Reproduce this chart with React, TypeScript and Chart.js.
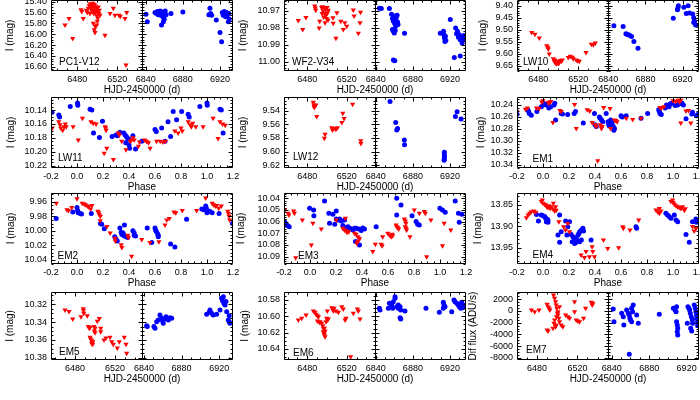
import React, { useEffect, useRef } from "react";
import { Chart, registerables } from "chart.js";

Chart.register(...registerables);

type Pt = [number, number];

const FONT = "'Liberation Sans', Arial, Helvetica, sans-serif";
const RED = "rgb(255,0,0)";
const BLUE = "rgb(0,0,255)";

// ---------------- tick values ----------------
const hjdTicksA = [6480, 6520];
const hjdTicksB = [6840, 6880, 6920];
const phaseTicks = [-0.2, 0.0, 0.2, 0.4, 0.6, 0.8, 1.0, 1.2];
const pc1v12YTicks = [15.4, 15.6, 15.8, 16.0, 16.2, 16.4, 16.6];
const wf2v34YTicks = [10.97, 10.98, 10.99, 11.0];
const lw10YTicks = [9.4, 9.45, 9.5, 9.55, 9.6, 9.65];
const lw11YTicks = [10.14, 10.16, 10.18, 10.2, 10.22];
const lw12YTicks = [9.54, 9.56, 9.58, 9.6, 9.62];
const em1YTicks = [10.24, 10.26, 10.28, 10.3, 10.32, 10.34];
const em2YTicks = [9.96, 9.98, 10.0, 10.02, 10.04];
const em3YTicks = [10.04, 10.05, 10.06, 10.07, 10.08, 10.09];
const em4YTicks = [13.85, 13.9, 13.95];
const em5YTicks = [10.32, 10.34, 10.36, 10.38];
const em6YTicks = [10.58, 10.6, 10.62, 10.64];
const em7YTicks = [2000, 0, -2000, -4000, -6000, -8000];

// ---------------- data: [HJD-2450000 or phase, value] ----------------
const pc1v12Red: Pt[] = [
  [6467.7, 15.83], [6471.7, 15.71], [6475.4, 16.08], [6483.7, 15.55], [6484.5, 15.58], [6486, 15.71],
  [6489, 15.56], [6490, 15.6], [6491, 15.52], [6492, 15.47], [6493, 15.44], [6493.5, 15.5], [6494, 15.55],
  [6494.5, 15.46], [6495, 15.58], [6495.5, 15.43], [6496, 15.5], [6496.5, 15.62], [6497, 15.45], [6497.5, 15.55],
  [6498, 15.48], [6498.5, 15.6], [6499, 15.52], [6499.5, 15.66], [6500, 15.57], [6500.5, 15.7], [6501, 15.5],
  [6501.5, 15.62], [6502, 15.56], [6492.7, 15.62], [6496, 15.8], [6497, 15.92], [6497.7, 15.97], [6498, 15.86],
  [6499.4, 15.83], [6500, 15.76], [6502.7, 15.65], [6507.7, 16.02], [6512.7, 15.62], [6516, 15.52],
  [6517.7, 15.65], [6521.7, 15.65], [6523, 15.67], [6527.7, 15.71], [6529.4, 15.6], [6528.7, 16.57],
];
const pc1v12Blue: Pt[] = [
  [6840.3, 15.63], [6841.7, 15.77], [6850, 15.6], [6851.5, 15.62], [6852.5, 15.58], [6853.5, 15.64],
  [6854.5, 15.6], [6855.5, 15.57], [6856.5, 15.62], [6857, 15.66], [6857.5, 15.59], [6858.5, 15.63],
  [6859, 15.69], [6860, 15.61], [6861, 15.57], [6862, 15.64], [6857, 15.83], [6859, 15.77], [6860, 15.72],
  [6867.2, 15.62], [6880, 15.59], [6908, 15.64], [6909.2, 15.52], [6910, 15.62], [6911, 15.65], [6916, 15.74],
  [6920, 15.97], [6921.7, 16.14], [6922.5, 15.6], [6923.5, 15.65], [6924.5, 15.58], [6925.5, 15.62],
  [6926, 15.68], [6927, 15.6], [6928, 15.64], [6929, 15.77], [6929.5, 15.62], [6930, 15.72],
];
const wf2v34Red: Pt[] = [
  [6470.8, 10.9757], [6475.3, 10.981], [6478.6, 10.9738], [6487.5, 10.967], [6488, 10.9682], [6488.5, 10.9695],
  [6492, 10.98], [6492.5, 10.976], [6494.5, 10.968], [6495, 10.9715], [6495.5, 10.9675], [6496, 10.97],
  [6496.5, 10.9735], [6497, 10.968], [6497.5, 10.9715], [6498, 10.977], [6498.5, 10.969], [6499, 10.9725],
  [6499.5, 10.9745], [6500, 10.968], [6500.5, 10.971], [6501, 10.9753], [6501.3, 10.9695], [6506.3, 10.9773],
  [6506, 10.974], [6509, 10.9862], [6510, 10.971], [6514, 10.976], [6516.5, 10.981], [6518, 10.977],
  [6520, 10.979], [6526.6, 10.9694], [6527.5, 10.973], [6531.8, 10.9832], [6533.5, 10.977], [6534, 10.9708],
];
const wf2v34Blue: Pt[] = [
  [6843.9, 10.9684], [6846, 10.9686], [6854.7, 10.9685], [6857, 10.972], [6858, 10.9745], [6859, 10.976],
  [6860, 10.973], [6860.5, 10.9775], [6861, 10.975], [6861.5, 10.979], [6862, 10.974], [6862.5, 10.977],
  [6863, 10.9725], [6863.5, 10.9765], [6864, 10.978], [6858, 10.981], [6859, 10.982], [6860, 10.983],
  [6861, 10.9815], [6871, 10.9832], [6859, 10.999], [6860.5, 10.9995], [6909.5, 10.9832], [6913, 10.982],
  [6913.5, 10.984], [6914, 10.986], [6914.5, 10.988], [6915, 10.985], [6915.5, 10.9875], [6920.3, 10.975],
  [6926, 10.98], [6927, 10.9835], [6928, 10.982], [6929, 10.9855], [6930, 10.984], [6931, 10.987],
  [6932, 10.9855], [6933, 10.989], [6934, 10.987], [6935, 10.9845], [6924.6, 10.9975], [6931, 10.9966],
];
const lw10Red: Pt[] = [
  [6473.4, 9.511], [6476.7, 9.518], [6481, 9.534], [6488.4, 9.566], [6489.5, 9.572], [6490, 9.58], [6491, 9.6],
  [6495, 9.62], [6496, 9.63], [6496.5, 9.625], [6497, 9.636], [6498, 9.641], [6498.5, 9.632], [6499, 9.638],
  [6500, 9.632], [6500.5, 9.64], [6501.7, 9.627], [6503, 9.63], [6504, 9.625], [6510, 9.615], [6512, 9.61],
  [6514, 9.614], [6515, 9.62], [6518, 9.625], [6519.5, 9.628], [6521, 9.63], [6527.7, 9.594], [6533, 9.56],
  [6535, 9.562], [6537, 9.555],
];
const lw10Blue: Pt[] = [
  [6846, 9.483], [6856, 9.486], [6859, 9.516], [6860, 9.518], [6861.5, 9.52], [6863, 9.523], [6865, 9.528],
  [6867.6, 9.548], [6872, 9.576], [6910, 9.452], [6914.5, 9.417], [6915, 9.41], [6915.5, 9.4], [6921.4, 9.406],
  [6926, 9.4], [6924, 9.432], [6927.5, 9.43], [6931, 9.434], [6932, 9.45], [6933, 9.465], [6934, 9.48], [6932, 9.47],
];
const lw11Red: Pt[] = [
  [-0.19, 10.166], [-0.14, 10.157], [-0.13, 10.161], [-0.125, 10.166], [-0.11, 10.169], [-0.1, 10.164],
  [-0.09, 10.16], [-0.083, 10.164], [-0.03, 10.164], [0.01, 10.183], [0.042, 10.152], [0.107, 10.157],
  [0.125, 10.159], [0.147, 10.16], [0.216, 10.164], [0.22, 10.166], [0.224, 10.169], [0.209, 10.202],
  [0.229, 10.195], [0.318, 10.173], [0.326, 10.176], [0.28, 10.211], [0.344, 10.185], [0.377, 10.197],
  [0.41, 10.185], [0.42, 10.183], [0.43, 10.18], [0.44, 10.183], [0.472, 10.192], [0.48, 10.186],
  [0.52, 10.183], [0.535, 10.185], [0.55, 10.187], [0.562, 10.195], [0.613, 10.185], [0.64, 10.185],
  [0.66, 10.186], [0.68, 10.185], [0.753, 10.17], [0.778, 10.173], [0.8, 10.166], [0.81, 10.17],
  [0.855, 10.157], [0.87, 10.161], [0.88, 10.164], [0.89, 10.159], [0.914, 10.164], [0.97, 10.164],
  [1.047, 10.152], [1.085, 10.181], [1.1, 10.157], [1.12, 10.16], [1.14, 10.162],
];
const lw11Blue: Pt[] = [
  [-0.192, 10.1433], [-0.14, 10.147], [-0.134, 10.15], [-0.052, 10.135], [0.004, 10.13], [0.006, 10.133],
  [0.1, 10.139], [0.114, 10.14], [0.127, 10.173], [0.196, 10.156], [0.173, 10.1796], [0.27, 10.178],
  [0.3, 10.176], [0.31, 10.177], [0.33, 10.172], [0.36, 10.173], [0.37, 10.176], [0.38, 10.178],
  [0.39, 10.181], [0.4, 10.182], [0.375, 10.187], [0.4, 10.19], [0.405, 10.195], [0.43, 10.177],
  [0.45, 10.196], [0.498, 10.185], [0.6, 10.168], [0.61, 10.171], [0.651, 10.166], [0.677, 10.185],
  [0.7, 10.157], [0.72, 10.178], [0.74, 10.142], [0.766, 10.154], [0.805, 10.142], [0.855, 10.146],
  [0.863, 10.15], [0.945, 10.135], [1.0, 10.13], [1.002, 10.133], [1.1, 10.139], [1.11, 10.14], [1.124, 10.173],
];
const lw12Red: Pt[] = [
  [6486, 9.527], [6486.5, 9.531], [6487, 9.535], [6487.5, 9.533], [6488.7, 9.531], [6489.5, 9.548],
  [6498, 9.5746], [6497.3, 9.5805], [6504.8, 9.565], [6505.5, 9.568], [6507, 9.566], [6509, 9.567],
  [6510.5, 9.565], [6515, 9.557], [6516, 9.5435], [6517.3, 9.551], [6526, 9.53], [6534.2, 9.584], [6534.4, 9.588],
];
const lw12Blue: Pt[] = [
  [6855.4, 9.526], [6861.5, 9.557], [6862.6, 9.568], [6863.5, 9.566], [6870.8, 9.583], [6871, 9.59],
  [6913.9, 9.601], [6913.9, 9.605], [6914, 9.608], [6913.8, 9.611], [6913.6, 9.613], [6925.8, 9.548],
  [6927.6, 9.541], [6931.9, 9.552],
];
const em1Red: Pt[] = [
  [-0.2, 10.251], [-0.135, 10.247], [-0.12, 10.245], [-0.05, 10.245], [-0.03, 10.246], [-0.01, 10.235],
  [0.0, 10.233], [0.04, 10.236], [0.045, 10.237], [0.06, 10.234], [0.076, 10.269], [0.13, 10.249],
  [0.14, 10.251], [0.243, 10.239], [0.256, 10.279], [0.34, 10.248], [0.36, 10.25], [0.378, 10.269],
  [0.4, 10.273], [0.41, 10.276], [0.44, 10.273], [0.45, 10.279], [0.455, 10.276], [0.421, 10.333],
  [0.467, 10.244], [0.516, 10.246], [0.52, 10.279], [0.55, 10.265], [0.56, 10.266], [0.57, 10.268],
  [0.64, 10.262], [0.69, 10.264], [0.754, 10.262], [0.9, 10.244], [0.91, 10.245], [0.93, 10.243],
  [1.0, 10.233], [1.02, 10.234], [1.04, 10.232], [1.05, 10.235], [1.06, 10.232], [1.06, 10.27],
  [1.1, 10.25], [1.12, 10.249], [1.137, 10.27],
];
const em1Blue: Pt[] = [
  [-0.2, 10.2555], [-0.118, 10.248], [-0.11, 10.251], [-0.105, 10.254], [-0.09, 10.257], [-0.047, 10.251],
  [-0.013, 10.243], [0.0, 10.24], [0.01, 10.238], [0.025, 10.24], [0.038, 10.237], [0.045, 10.245],
  [0.06, 10.243], [0.085, 10.24], [0.09, 10.237], [0.097, 10.265], [0.14, 10.254], [0.15, 10.255],
  [0.19, 10.256], [0.24, 10.254], [0.25, 10.251], [0.31, 10.27], [0.396, 10.254], [0.4, 10.273],
  [0.41, 10.276], [0.434, 10.26], [0.44, 10.262], [0.45, 10.265], [0.46, 10.268], [0.486, 10.254],
  [0.5, 10.268], [0.505, 10.272], [0.51, 10.275], [0.52, 10.265], [0.525, 10.267], [0.53, 10.27],
  [0.535, 10.274], [0.54, 10.276], [0.55, 10.279], [0.545, 10.282], [0.6, 10.258], [0.605, 10.259],
  [0.61, 10.26], [0.64, 10.258], [0.754, 10.262], [0.805, 10.254], [0.89, 10.248], [0.895, 10.251],
  [0.9, 10.254], [0.91, 10.256], [0.94, 10.245], [0.95, 10.24], [0.97, 10.243], [0.98, 10.238],
  [0.99, 10.237], [1.017, 10.241], [1.035, 10.24], [1.05, 10.238], [1.07, 10.237], [1.08, 10.24],
  [1.1, 10.263], [1.145, 10.255], [1.15, 10.252], [1.18, 10.258], [1.19, 10.256],
];
const em2Red: Pt[] = [
  [-0.2, 9.972], [-0.159, 9.962], [-0.078, 9.971], [-0.065, 9.972], [-0.04, 9.968], [0.0, 9.956],
  [0.04, 9.962], [0.055, 9.963], [0.065, 9.964], [0.08, 9.966], [0.09, 9.967], [0.105, 9.97], [0.115, 9.965],
  [0.16, 9.973], [0.167, 9.975], [0.172, 9.978], [0.18, 9.98], [0.178, 9.986], [0.23, 9.994], [0.255, 10.003],
  [0.293, 10.01], [0.295, 10.014], [0.34, 10.019], [0.345, 10.023], [0.39, 10.006], [0.395, 10.009],
  [0.42, 10.035], [0.498, 10.012], [0.561, 10.016], [0.63, 10.015], [0.677, 9.992], [0.69, 9.985],
  [0.71, 9.983], [0.746, 9.974], [0.76, 9.975], [0.81, 9.972], [0.92, 9.972], [0.99, 9.955], [1.04, 9.962],
  [1.05, 9.964], [1.065, 9.966], [1.075, 9.965], [1.09, 9.969], [1.11, 9.966], [1.16, 9.973], [1.165, 9.976],
  [1.17, 9.98], [1.175, 9.985],
];
const em2Blue: Pt[] = [
  [-0.16, 9.983], [-0.032, 9.974], [0.0, 9.968], [0.005, 9.972], [0.01, 9.975], [0.025, 9.976], [0.035, 9.977],
  [0.11, 9.976], [0.18, 9.99], [0.19, 9.991], [0.21, 9.997], [0.29, 10.008], [0.3, 10.011], [0.31, 10.014],
  [0.33, 9.996], [0.34, 10.002], [0.345, 10.005], [0.355, 10.003], [0.36, 10.006], [0.365, 10.007],
  [0.38, 10.008], [0.39, 10.009], [0.365, 9.992], [0.43, 10.0], [0.44, 10.003], [0.44, 10.006], [0.45, 10.007],
  [0.54, 9.996], [0.6, 9.996], [0.605, 9.999], [0.61, 10.001], [0.62, 10.004], [0.625, 10.006], [0.625, 10.008],
  [0.575, 10.016], [0.72, 10.018], [0.753, 10.022], [0.843, 9.984], [0.96, 9.97], [0.975, 9.971], [0.99, 9.966],
  [0.995, 9.969], [1.0, 9.975], [1.02, 9.973], [1.04, 9.975], [1.093, 9.976], [1.196, 9.99],
];
const em3Red: Pt[] = [
  [-0.195, 10.05], [-0.169, 10.0529], [-0.162, 10.0543], [-0.126, 10.0509], [-0.12, 10.0529], [-0.11, 10.0909],
  [-0.059, 10.0586], [0.01, 10.08], [0.022, 10.0614], [0.087, 10.0663], [0.202, 10.0586], [0.273, 10.0571],
  [0.252, 10.0657], [0.265, 10.0671], [0.278, 10.068], [0.285, 10.0691], [0.298, 10.0686], [0.342, 10.07],
  [0.355, 10.0709], [0.368, 10.0729], [0.375, 10.0743], [0.38, 10.0749], [0.36, 10.0786], [0.368, 10.0771],
  [0.483, 10.0857], [0.503, 10.0794], [0.547, 10.0794], [0.555, 10.0806], [0.559, 10.0729], [0.598, 10.07],
  [0.611, 10.0714], [0.624, 10.0729], [0.632, 10.0709], [0.636, 10.0721], [0.662, 10.0629], [0.667, 10.0643],
  [0.675, 10.0651], [0.682, 10.0663], [0.726, 10.0577], [0.733, 10.0594], [0.738, 10.0614], [0.733, 10.0643],
  [0.738, 10.0657], [0.743, 10.0671], [0.769, 10.0729], [0.802, 10.05], [0.841, 10.0529], [0.879, 10.0514],
  [0.887, 10.0529], [0.897, 10.09], [0.93, 10.0586], [1.019, 10.0806], [1.032, 10.0614], [1.083, 10.0671],
];
const em3Blue: Pt[] = [
  [-0.195, 10.06], [-0.19, 10.0614], [-0.185, 10.0629], [-0.172, 10.0634], [-0.16, 10.0643], [-0.003, 10.0486],
  [0.028, 10.05], [0.03, 10.0549], [0.112, 10.0423], [0.145, 10.0529], [0.15, 10.0614], [0.176, 10.0537],
  [0.19, 10.0623], [0.202, 10.0509], [0.202, 10.0577], [0.215, 10.0586], [0.228, 10.0577], [0.24, 10.0594],
  [0.266, 10.0586], [0.253, 10.0634], [0.266, 10.0657], [0.279, 10.0651], [0.292, 10.0643], [0.305, 10.0657],
  [0.317, 10.0663], [0.33, 10.0671], [0.343, 10.0657], [0.356, 10.0657], [0.35, 10.0771], [0.381, 10.08],
  [0.376, 10.0663], [0.394, 10.0677], [0.406, 10.0654], [0.419, 10.0663], [0.509, 10.0643], [0.667, 10.04],
  [0.667, 10.0543], [0.7, 10.0457], [0.785, 10.0549], [0.816, 10.06], [0.828, 10.0623], [0.841, 10.0629],
  [0.999, 10.0486], [1.019, 10.05], [1.04, 10.052], [1.117, 10.0423], [1.142, 10.0529], [1.148, 10.0606],
  [1.168, 10.0537],
];
const em4Red: Pt[] = [
  [-0.128, 13.8797], [-0.115, 13.8734], [-0.102, 13.8695], [-0.09, 13.8656], [-0.072, 13.864], [-0.056, 13.867],
  [-0.013, 13.842], [-0.005, 13.838], [0.0, 13.846], [0.013, 13.848], [0.02, 13.85], [0.03, 13.854],
  [0.038, 13.856], [0.046, 13.8516], [0.056, 13.858], [0.064, 13.854], [0.076, 13.859], [0.089, 13.864],
  [0.102, 13.862], [0.097, 13.854], [0.08, 13.846], [0.122, 13.889], [0.158, 13.9007], [0.173, 13.9085],
  [0.191, 13.893], [0.204, 13.9125], [0.293, 13.967], [0.319, 13.973], [0.331, 13.959], [0.357, 13.971],
  [0.378, 13.9476], [0.383, 13.959], [0.396, 13.971], [0.465, 13.932], [0.498, 13.9515], [0.582, 13.95],
  [0.613, 13.9007], [0.618, 13.9046], [0.669, 13.9085], [0.736, 13.885], [0.869, 13.8617], [0.882, 13.8656],
  [0.895, 13.8695], [0.907, 13.864], [0.895, 13.858], [0.984, 13.842], [0.997, 13.838], [1.002, 13.844],
  [1.01, 13.848], [1.023, 13.8516], [1.036, 13.854], [1.048, 13.856], [1.061, 13.858], [1.074, 13.854],
  [1.087, 13.862], [1.094, 13.859], [1.15, 13.9], [1.163, 13.911], [1.176, 13.905],
];
const em4Blue: Pt[] = [
  [-0.05, 13.872], [-0.035, 13.8875], [-0.013, 13.8734], [0.0, 13.875], [0.013, 13.877], [0.02, 13.881],
  [0.03, 13.883], [0.038, 13.885], [0.026, 13.889], [0.038, 13.8906], [0.128, 13.8734], [0.174, 13.8875],
  [0.184, 13.92], [0.115, 13.92], [0.128, 13.9374], [0.14, 13.9125], [0.191, 13.9007], [0.204, 13.889],
  [0.217, 13.9187], [0.23, 13.924], [0.243, 13.928], [0.256, 13.9265], [0.269, 13.92], [0.276, 13.9164],
  [0.282, 13.9125], [0.295, 13.9085], [0.307, 13.9046], [0.312, 13.911], [0.225, 13.936], [0.243, 13.94],
  [0.256, 13.937], [0.269, 13.934], [0.282, 13.936], [0.295, 13.932], [0.37, 13.932], [0.715, 13.9007],
  [0.72, 13.9046], [0.945, 13.8695], [0.958, 13.8734], [0.971, 13.877], [0.984, 13.881], [1.01, 13.8734],
  [1.023, 13.885], [1.036, 13.889], [1.1, 13.9187], [1.125, 13.9374], [1.15, 13.889], [1.176, 13.883],
  [1.18, 13.8906],
];
const em5Red: Pt[] = [
  [6470, 10.3264], [6474, 10.328], [6477.7, 10.3365], [6486, 10.334], [6488.3, 10.325], [6488.5, 10.327],
  [6488.8, 10.33], [6492.3, 10.333], [6493.3, 10.345], [6494.3, 10.347], [6495, 10.346], [6495, 10.357],
  [6495.7, 10.359], [6496.7, 10.361], [6497.7, 10.362], [6496.7, 10.364], [6497.7, 10.365], [6499, 10.345],
  [6500, 10.347], [6499.3, 10.35], [6500, 10.352], [6502.3, 10.339], [6504.3, 10.336], [6505.7, 10.347],
  [6505.7, 10.351], [6509, 10.36], [6511, 10.358], [6515, 10.357], [6516.7, 10.362], [6518.3, 10.365],
  [6522.3, 10.369], [6524.3, 10.362], [6529.3, 10.357], [6531, 10.365], [6531.7, 10.375],
];
const em5Blue: Pt[] = [
  [6842.8, 10.344], [6843.5, 10.345], [6850.6, 10.345], [6851.7, 10.347], [6853.5, 10.3395], [6855.2, 10.3376],
  [6857, 10.332], [6858.8, 10.3357], [6859.9, 10.3387], [6860.5, 10.3414], [6862.3, 10.3365], [6863.4, 10.334],
  [6864.1, 10.3357], [6865.9, 10.3376], [6867.7, 10.335], [6869.5, 10.3357], [6906.7, 10.3313], [6909.5, 10.329],
  [6910.2, 10.3264], [6912, 10.33], [6913.7, 10.332], [6917.3, 10.3313], [6920.9, 10.3264], [6922.6, 10.3133],
  [6923.7, 10.3163], [6924.4, 10.3115], [6925.1, 10.319], [6926.2, 10.3208], [6927.2, 10.317], [6928, 10.3283],
  [6929.7, 10.3376], [6930.7, 10.3395], [6931.5, 10.3414], [6930.7, 10.3328],
];
const em6Red: Pt[] = [
  [6470.9, 10.6045], [6474.3, 10.6025], [6478.7, 10.5984], [6486.1, 10.5935], [6487.8, 10.5951], [6488.8, 10.5976],
  [6490.2, 10.5992], [6491.2, 10.6004], [6490.2, 10.6057], [6492.2, 10.6074], [6492.9, 10.6065], [6494.6, 10.6086],
  [6495.6, 10.6114], [6496.2, 10.6147], [6496.2, 10.6188], [6497, 10.6208], [6497.3, 10.6229], [6498, 10.6249],
  [6497.3, 10.6147], [6498, 10.618], [6499, 10.6065], [6499.7, 10.6025], [6500.3, 10.6045], [6501.3, 10.6033],
  [6500.3, 10.5935], [6504.8, 10.5894], [6505.8, 10.591], [6506.4, 10.5935], [6507.1, 10.5902], [6509.1, 10.5935],
  [6511.5, 10.5951], [6514.9, 10.5882], [6516.5, 10.591], [6518.3, 10.6045], [6519.3, 10.6025], [6524, 10.6494],
  [6526.7, 10.5963], [6530.8, 10.591], [6531.8, 10.5935], [6533.5, 10.6033],
];
const em6Blue: Pt[] = [
  [6843.9, 10.5902], [6844.6, 10.5922], [6853.6, 10.5902], [6854.7, 10.5841], [6857.2, 10.5861], [6858.3, 10.5902],
  [6858.9, 10.582], [6860.8, 10.5759], [6860.8, 10.578], [6862.6, 10.5882], [6864.3, 10.5861], [6864.3, 10.5902],
  [6866.2, 10.5882], [6866.9, 10.5922], [6866.2, 10.6016], [6866.9, 10.6033], [6871.5, 10.5935], [6894.1, 10.5902],
  [6908.5, 10.5951], [6912.8, 10.5829], [6913.5, 10.5861], [6914.6, 10.5882], [6912.8, 10.5902], [6921.8, 10.5943],
  [6924.3, 10.58], [6925.4, 10.582], [6927.2, 10.5841], [6928.9, 10.5861], [6930, 10.5882], [6930.8, 10.5853],
  [6932.5, 10.5829], [6934.3, 10.5861], [6933.6, 10.5894], [6931.5, 10.5902],
];
const em7Red: Pt[] = [
  [6474.5, 171], [6477.7, -114], [6482, 171], [6490, 1140], [6491, 741], [6492, 456], [6492.7, 171],
  [6490, -3255], [6491, -3426], [6496.4, 2740], [6497.4, 2170], [6498.4, 1600], [6499, 1030], [6499.7, 460],
  [6500.7, -114], [6500.7, -685], [6501.7, -1256], [6502.3, -1827], [6499, -2400], [6498.4, -2684],
  [6502.3, 742], [6500.3, -400], [6499.3, -970], [6497.4, -1540], [6496.8, -2110], [6495.8, -2970],
  [6504, -2400], [6505.6, -2684], [6508.3, -685], [6510.6, -970], [6512.2, -1256], [6517.2, -114],
  [6518.8, -1540], [6520.5, -1713], [6522.1, -1827], [6517.2, 1600], [6526.1, -1256], [6528.1, 456],
  [6533.7, 1485], [6534.7, 1027], [6535.3, 1313],
];
const em7Blue: Pt[] = [
  [6841.7, 342], [6842.5, -1827], [6850.7, -400], [6852.4, -970], [6853, -2400], [6856, 171], [6857.8, -400],
  [6858.8, -685], [6859.5, -1256], [6860.2, -1540], [6861.3, -1827], [6862.4, -114], [6863, 1027], [6861.3, 456],
  [6858.8, -7420], [6866.7, -685], [6868.4, -2110], [6890.8, -570], [6905.8, 456], [6907.6, 171], [6908.7, -114],
  [6909.3, 742], [6909.3, -1827], [6910, -2400], [6910.5, -2970], [6910, -3540], [6910.5, -4110], [6921.4, 742],
  [6922.5, 456], [6923.2, 171], [6923.9, -400], [6925, -970], [6926, -1540], [6926.4, -2110], [6928.1, 1027],
  [6929.2, 456], [6929.9, -114], [6930.6, -685], [6930.6, -1256], [6931.7, -1827], [6931.7, -2510],
  [6924.3, -2970], [6925.4, -3426], [6920.7, -2110],
];

// ---------------- layout ----------------
const COL_L = [51, 284, 517];
const PLOT_W = 182;
const ROW_T = [0, 97, 193, 292];
const ROW_B = [71, 168, 264, 360];
const Y_AXIS_W = 51;
const PAD_TOP = 10;
const PAD_RIGHT = 12;
const X_AXIS_H = 25;

interface Panel {
  label: string;
  kind: "hjd" | "phase";
  red: Pt[];
  blue: Pt[];
  y: [number, number];
  reverse: boolean;
  yTicks: number[];
  yDec: number;
  yMinor: number;
  xa?: [number, number];
  xb?: [number, number];
  yTitle: string;
  col: number;
  row: number;
  yTitleX: number;
  lab: [number, number];
}

const panels: Panel[] = [
  { label: "PC1-V12", kind: "hjd", red: pc1v12Red, blue: pc1v12Blue, y: [15.369, 16.679], reverse: true, yTicks: pc1v12YTicks, yDec: 2, yMinor: 4, xa: [6453.7, 6544.7], xb: [6836, 6934], yTitle: "I (mag)", col: 0, row: 0, yTitleX: 10, lab: [8, 9] },
  { label: "WF2-V34", kind: "hjd", red: wf2v34Red, blue: wf2v34Blue, y: [10.9635, 11.0055], reverse: true, yTicks: wf2v34YTicks, yDec: 2, yMinor: 5, xa: [6456.3, 6548.7], xb: [6839.2, 6937.2], yTitle: "I (mag)", col: 1, row: 0, yTitleX: 243, lab: [8, 9] },
  { label: "LW10", kind: "hjd", red: lw10Red, blue: lw10Blue, y: [9.3764, 9.6707], reverse: true, yTicks: lw10YTicks, yDec: 2, yMinor: 5, xa: [6458.7, 6549.7], xb: [6839.7, 6937.7], yTitle: "I (mag)", col: 2, row: 0, yTitleX: 483, lab: [6, 9] },
  { label: "LW11", kind: "phase", red: lw11Red, blue: lw11Blue, y: [10.1213, 10.2233], reverse: true, yTicks: lw11YTicks, yDec: 2, yMinor: 4, yTitle: "I (mag)", col: 0, row: 1, yTitleX: 11.7, lab: [7, 10] },
  { label: "LW12", kind: "hjd", red: lw12Red, blue: lw12Blue, y: [9.5193, 9.6244], reverse: true, yTicks: lw12YTicks, yDec: 2, yMinor: 4, xa: [6456.3, 6548.7], xb: [6839.2, 6937.2], yTitle: "I (mag)", col: 1, row: 1, yTitleX: 243, lab: [9, 11] },
  { label: "EM1", kind: "phase", red: em1Red, blue: em1Blue, y: [10.2267, 10.345], reverse: true, yTicks: em1YTicks, yDec: 2, yMinor: 4, yTitle: "I (mag)", col: 2, row: 1, yTitleX: 481.7, lab: [15.5, 9] },
  { label: "EM2", kind: "phase", red: em2Red, blue: em2Blue, y: [9.948, 10.0455], reverse: true, yTicks: em2YTicks, yDec: 2, yMinor: 4, yTitle: "I (mag)", col: 0, row: 2, yTitleX: 11.7, lab: [6.5, 8] },
  { label: "EM3", kind: "phase", red: em3Red, blue: em3Blue, y: [10.0355, 10.0963], reverse: true, yTicks: em3YTicks, yDec: 2, yMinor: 5, yTitle: "I (mag)", col: 1, row: 2, yTitleX: 241.7, lab: [14, 8] },
  { label: "EM4", kind: "phase", red: em4Red, blue: em4Blue, y: [13.8219, 13.988], reverse: true, yTicks: em4YTicks, yDec: 2, yMinor: 5, yTitle: "I (mag)", col: 2, row: 2, yTitleX: 478.3, lab: [15.5, 9] },
  { label: "EM5", kind: "hjd", red: em5Red, blue: em5Blue, y: [10.3062, 10.3826], reverse: true, yTicks: em5YTicks, yDec: 2, yMinor: 4, xa: [6456, 6547], xb: [6837.9, 6934.7], yTitle: "I (mag)", col: 0, row: 3, yTitleX: 10, lab: [8, 8] },
  { label: "EM6", kind: "hjd", red: em6Red, blue: em6Blue, y: [10.5702, 10.6535], reverse: true, yTicks: em6YTicks, yDec: 2, yMinor: 4, xa: [6456.3, 6548.7], xb: [6839.2, 6937.2], yTitle: "I (mag)", col: 1, row: 3, yTitleX: 245, lab: [9, 7] },
  { label: "EM7", kind: "hjd", red: em7Red, blue: em7Blue, y: [-8394, 3255], reverse: false, yTicks: em7YTicks, yDec: 0, yMinor: 4, xa: [6460.2, 6550.3], xb: [6836.1, 6933.2], yTitle: "Dif flux (ADU/s)", col: 2, row: 3, yTitleX: 473.3, lab: [9, 10] },
];

// ---------------- frame / ticks plugin ----------------
function tickValues(min: number, max: number, step: number, n: number): [number, boolean][] {
  const ms = step / n;
  const out: [number, boolean][] = [];
  const k0 = Math.ceil(min / ms - 1e-6);
  const k1 = Math.floor(max / ms + 1e-6);
  for (let k = k0; k <= k1; k++) {
    const v = k * ms;
    const r = v / step;
    out.push([v, Math.abs(r - Math.round(r)) < 1e-6]);
  }
  return out;
}

const framePlugin = {
  id: "frame",
  afterDraw(chart: any, _args: any, o: any) {
    const { ctx, chartArea: a, scales } = chart;
    const l = Math.round(a.left) + 0.5;
    const r = Math.round(a.right) - 0.5;
    const t = Math.round(a.top) + 0.5;
    const b = Math.round(a.bottom) - 0.5;
    ctx.save();
    ctx.strokeStyle = "#000";
    ctx.lineWidth = 1;
    ctx.beginPath();
    ctx.rect(l, t, r - l, b - t);
    const yEdges: [number, number][] = [[l, 1], [r, -1]];
    if (o.hjd) {
      const brk = Math.round(scales.xa.right) + 0.5;
      ctx.moveTo(brk, t);
      ctx.lineTo(brk, b);
      yEdges.push([brk, -1], [brk, 1]);
    }
    const ys = scales.y;
    const yt = ys.ticks.map((k: any) => k.value);
    const ystep = Math.abs(yt[1] - yt[0]);
    for (const [v, major] of tickValues(ys.min, ys.max, ystep, o.yMinor)) {
      const py = Math.round(ys.getPixelForValue(v)) + 0.5;
      const len = major ? 4 : 2;
      for (const [ex, dir] of yEdges) {
        ctx.moveTo(ex, py);
        ctx.lineTo(ex + dir * len, py);
      }
    }
    const xIds = o.hjd ? ["xa", "xb"] : ["x"];
    for (const id of xIds) {
      const xs = scales[id];
      const xt = xs.ticks.map((k: any) => k.value);
      const step = Math.abs(xt[1] - xt[0]);
      for (const [v, major] of tickValues(xs.min, xs.max, step, 4)) {
        const px = Math.round(xs.getPixelForValue(v)) + 0.5;
        if (px < l + 1 || px > r - 1) continue;
        const len = major ? 4 : 2;
        ctx.moveTo(px, b);
        ctx.lineTo(px, b - len);
        ctx.moveTo(px, t);
        ctx.lineTo(px, t + len);
      }
    }
    ctx.stroke();
    ctx.fillStyle = "#000";
    ctx.font = `10px ${FONT}`;
    ctx.textBaseline = "middle";
    ctx.textAlign = "left";
    ctx.fillText(o.label, a.left + o.lab[0], a.bottom - o.lab[1]);
    ctx.restore();
  },
};

const tickFont = { family: FONT, size: 9 };
const titleFont = { family: FONT, size: 10 };

function xScale(range: [number, number], ticks: number[], dec: number, extra: any) {
  return {
    type: "linear",
    position: "bottom",
    min: range[0],
    max: range[1],
    grid: { display: false, drawTicks: false },
    border: { display: false },
    afterBuildTicks: (s: any) => {
      s.ticks = ticks.map((v) => ({ value: v }));
    },
    ticks: {
      autoSkip: false,
      maxRotation: 0,
      minRotation: 0,
      padding: 3,
      color: "#000",
      font: tickFont,
      callback: (v: any) => Number(v).toFixed(dec),
    },
    ...extra,
  };
}

function PanelChart({ p }: { p: Panel }) {
  const ref = useRef<HTMLCanvasElement>(null);
  const plotH = ROW_B[p.row] - ROW_T[p.row];
  const W = Y_AXIS_W + PLOT_W + PAD_RIGHT;
  const H = PAD_TOP + plotH + X_AXIS_H;
  const left = COL_L[p.col] - Y_AXIS_W;
  const top = ROW_T[p.row] - PAD_TOP;

  useEffect(() => {
    const canvas = ref.current;
    if (!canvas) return;
    const hjd = p.kind === "hjd";
    const scales: any = {
      y: {
        type: "linear",
        position: "left",
        min: p.y[0],
        max: p.y[1],
        reverse: p.reverse,
        grid: { display: false, drawTicks: false },
        border: { display: false },
        afterBuildTicks: (s: any) => {
          s.ticks = p.yTicks.map((v) => ({ value: v }));
        },
        afterFit: (s: any) => {
          s.width = Y_AXIS_W;
        },
        ticks: {
          autoSkip: false,
          padding: 4,
          color: "#000",
          font: tickFont,
          callback: (v: any) => Number(v).toFixed(p.yDec),
        },
        title: {
          display: true,
          text: p.yTitle,
          color: "#000",
          font: titleFont,
          padding: { top: Math.max(0, p.yTitleX - left - 6), bottom: 0 },
        },
      },
    };
    if (hjd) {
      scales.xa = xScale(p.xa!, hjdTicksA, 0, {
        stack: "hjd",
        stackWeight: 1,
        afterFit: (s: any) => {
          s.height = 13;
        },
      });
      scales.xb = xScale(p.xb!, hjdTicksB, 0, {
        stack: "hjd",
        stackWeight: 1,
        afterFit: (s: any) => {
          s.height = 13;
        },
      });
    } else {
      scales.x = xScale([-0.2, 1.2], phaseTicks, 1, {
        afterFit: (s: any) => {
          s.height = X_AXIS_H;
        },
        title: { display: true, text: "Phase", color: "#000", font: titleFont, padding: { top: 0, bottom: 0 } },
      });
    }
    const chart = new Chart(canvas, {
      type: "scatter",
      data: {
        datasets: [
          {
            label: "red",
            data: p.red.map(([x, y]) => ({ x, y })),
            xAxisID: hjd ? "xa" : "x",
            yAxisID: "y",
            pointStyle: "triangle",
            pointRotation: 180,
            pointRadius: 3,
            pointBackgroundColor: RED,
            pointBorderColor: RED,
            pointBorderWidth: 0,
            showLine: false,
          },
          {
            label: "blue",
            data: p.blue.map(([x, y]) => ({ x, y })),
            xAxisID: hjd ? "xb" : "x",
            yAxisID: "y",
            pointStyle: "circle",
            pointRadius: 2.5,
            pointBackgroundColor: BLUE,
            pointBorderColor: BLUE,
            pointBorderWidth: 0,
            showLine: false,
          },
        ] as any,
      },
      options: {
        animation: false,
        responsive: false,
        devicePixelRatio: 1,
        layout: { autoPadding: false, padding: { top: PAD_TOP, right: PAD_RIGHT, left: 0, bottom: 0 } },
        scales,
        plugins: {
          legend: { display: false },
          tooltip: { enabled: false },
          title: {
            display: hjd,
            text: "HJD-2450000 (d)",
            position: "bottom",
            fullSize: false,
            color: "#000",
            font: { family: FONT, size: 10, weight: "normal" },
            padding: { top: 0, bottom: 0 },
          },
          frame: { hjd, yMinor: p.yMinor, label: p.label, lab: p.lab },
        } as any,
      } as any,
      plugins: [framePlugin],
    });
    return () => chart.destroy();
  }, []);

  return (
    <canvas
      ref={ref}
      width={W}
      height={H}
      style={{ position: "absolute", left, top, width: W, height: H }}
    />
  );
}

export default function App() {
  return (
    <div
      style={{
        position: "absolute",
        left: 0,
        top: 0,
        width: 700,
        height: 400,
        overflow: "hidden",
        background: "#fff",
      }}
    >
      {panels.map((p, i) => (
        <PanelChart key={i} p={p} />
      ))}
    </div>
  );
}
